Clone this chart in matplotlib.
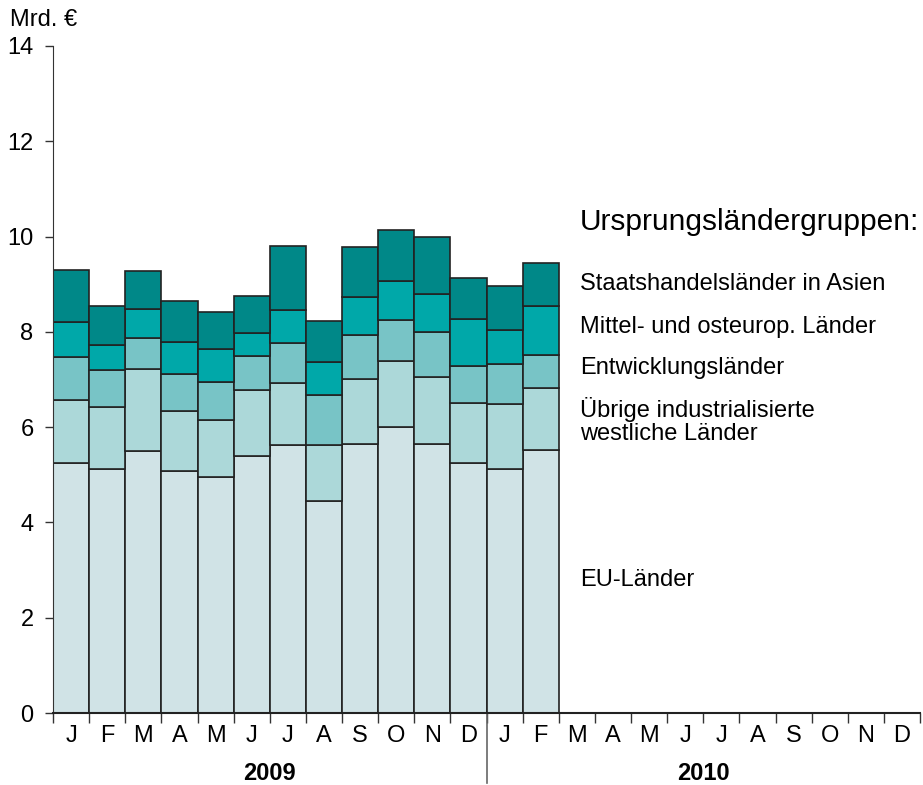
import matplotlib

matplotlib.use("Agg")
import matplotlib.pyplot as plt
import matplotlib.transforms as mtransforms

plt.rcParams["font.family"] = ["Liberation Sans", "DejaVu Sans"]

months = ["J", "F", "M", "A", "M", "J", "J", "A", "S", "O", "N", "D"] * 2
years = ["2009", "2010"]

# cumulative tops (Mrd. EUR), Jan 2009 .. Feb 2010
eu_top = [5.24, 5.12, 5.49, 5.08, 4.95, 5.39, 5.63, 4.44, 5.64, 6.01, 5.64, 5.24, 5.12, 5.52]
west_top = [6.57, 6.42, 7.22, 6.34, 6.15, 6.78, 6.92, 5.62, 7.01, 7.39, 7.06, 6.50, 6.48, 6.82]
dev_top = [7.48, 7.19, 7.87, 7.12, 6.94, 7.50, 7.76, 6.67, 7.93, 8.24, 7.99, 7.29, 7.32, 7.52]
east_top = [8.20, 7.73, 8.48, 7.78, 7.65, 7.98, 8.46, 7.37, 8.74, 9.06, 8.79, 8.27, 8.04, 8.54]
asia_top = [9.29, 8.55, 9.28, 8.64, 8.41, 8.76, 9.81, 8.23, 9.78, 10.14, 10.00, 9.13, 8.97, 9.45]

series = [
    ("EU-Länder", eu_top, "#d0e3e6"),
    ("Übrige industrialisierte westliche Länder", west_top, "#acd8d9"),
    ("Entwicklungsländer", dev_top, "#78c4c6"),
    ("Mittel- und osteurop. Länder", east_top, "#00a8a9"),
    ("Staatshandelsländer in Asien", asia_top, "#008888"),
]

fig = plt.figure(figsize=(9.23, 7.85), dpi=100)
ax = fig.add_axes([53 / 923, 1 - 713 / 785, 867 / 923, 667 / 785])

x = [i + 0.5 for i in range(len(eu_top))]
prev = [0.0] * len(eu_top)
for name, tops, color in series:
    heights = [t - p for t, p in zip(tops, prev)]
    ax.bar(x, heights, bottom=prev, width=1.0, color=color,
           edgecolor="#222222", linewidth=1.2, zorder=2)
    prev = tops

ax.set_xlim(0, 24)
ax.set_ylim(0, 14)
for side in ("top", "right"):
    ax.spines[side].set_visible(False)
ax.spines["left"].set_color("#333333")
ax.spines["bottom"].set_color("#222222")
ax.spines["bottom"].set_linewidth(1.5)

ax.set_yticks(range(0, 15, 2))
ax.tick_params(axis="y", direction="out", length=6, width=1, color="#333333",
               labelsize=17, pad=8)

ax.set_xticks([i + 0.5 for i in range(24)])
ax.set_xticklabels(months)
ax.set_xticks(range(25), minor=True)
ax.tick_params(axis="x", which="major", length=0, labelsize=17, pad=9)
ax.tick_params(axis="x", which="minor", direction="out", length=7, width=1,
               color="#333333")

trans = mtransforms.blended_transform_factory(ax.transData, ax.transAxes)
ax.plot([12, 12], [0, -0.105], transform=trans, color="#666666",
        linewidth=1.2, clip_on=False)
for i, yr in enumerate(years):
    ax.text(6 + 12 * i, -0.09, yr, transform=trans, ha="center", va="center",
            fontsize=17, fontweight="bold")

fig.text(10 / 923, 1 - 20 / 785, "Mrd. €", fontsize=17, va="center")

lx = 580 / 923
fig.text(lx, 1 - 222 / 785, "Ursprungsländergruppen:", fontsize=21.5, va="center")
labels = [
    ("Staatshandelsländer in Asien", 284),
    ("Mittel- und osteurop. Länder", 327),
    ("Entwicklungsländer", 368),
    ("Übrige industrialisierte\nwestliche Länder", 421),
    ("EU-Länder", 580),
]
for text, py in labels:
    fig.text(lx, 1 - py / 785, text, fontsize=17, va="center", linespacing=1.05)

fig.savefig("out.png", dpi=100)
